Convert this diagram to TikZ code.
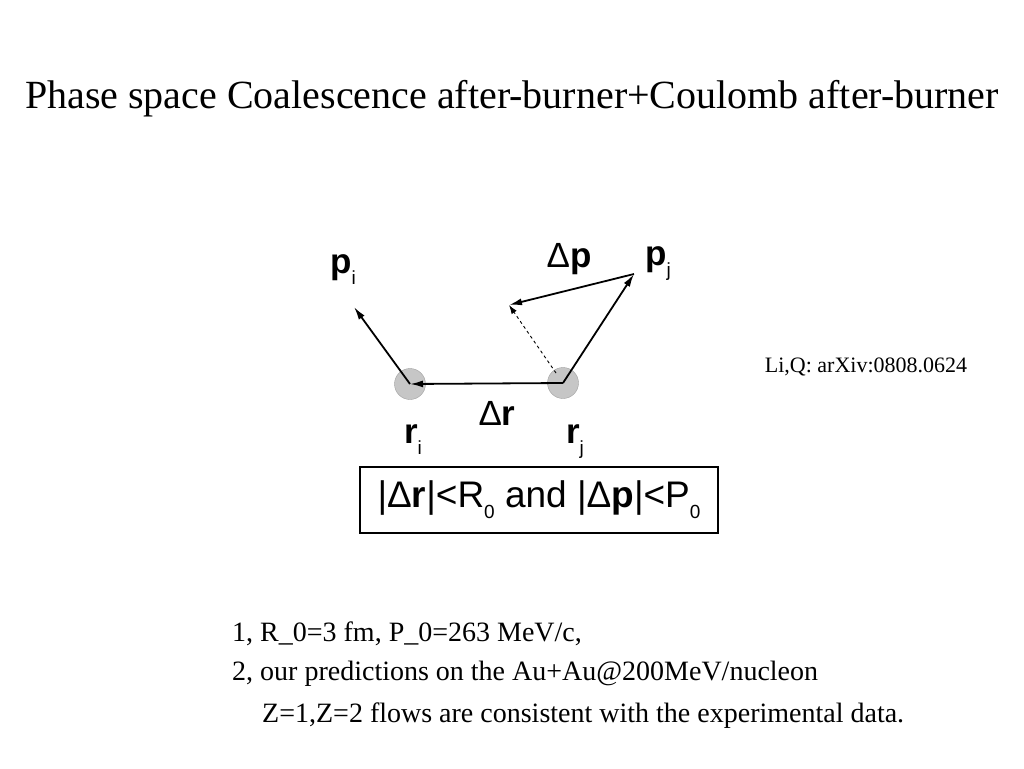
\documentclass[tikz,border=0pt]{standalone}
\usepackage{fontspec}
\setmainfont{Liberation Serif}
\newfontfamily\labelfont{Liberation Sans}
\usepackage{tikz}
\usetikzlibrary{arrows.meta}
\newcommand{\lsub}[1]{\raisebox{-11pt}{\fontsize{19}{19}\selectfont #1}}

\begin{document}
\begin{tikzpicture}[x = 1pt, y = -1pt,
  vec/.style = {-{Latex[length = 13pt, width = 7pt]}, line width = 1.8pt},
  lbl/.style = {font = \labelfont\fontsize{35}{36}\selectfont, inner sep = 0pt},
  txt/.style = {font = \fontsize{28}{32}\selectfont, inner sep = 0pt, anchor = west}]
\useasboundingbox (0, 0) rectangle (1024, 768);
\node (title) at (512, 99) [font = \fontsize{40}{44}\selectfont] {Phase space Coalescence after-burner+Coulomb after-burner};
\node (ri) at (410, 384) [circle, minimum size = 31pt, fill = gray!45, draw = gray!75] {};
\node (rj) at (563, 383) [circle, minimum size = 31pt, fill = gray!45, draw = gray!75] {};
\coordinate (pitip) at (354, 307);
\coordinate (pjtip) at (634, 274);
\coordinate (dptip) at (509, 305);
\draw [vec] (ri.center) -- (pitip);
\draw [vec] (rj.center) -- (pjtip);
\draw [vec] (pjtip) -- (dptip);
\draw [vec] (rj.center) -- (ri.center);
\draw [dashed, -{Latex[length = 9pt, width = 6pt]}, line width = 0.9pt] (rj.center) ++(-7, -10) -- (dptip);
\node (pilbl) at (343, 270) [lbl] {\textbf{p}\lsub{i}};
\node (pjlbl) at (658, 264) [lbl] {\textbf{p}\lsub{j}};
\node (dplbl) at (569, 259) [lbl] {Δ\textbf{p}};
\node (drlbl) at (497, 413) [lbl] {Δ\textbf{r}};
\node (rilbl) at (413, 440) [lbl] {\textbf{r}\lsub{i}};
\node (rjlbl) at (575, 442) [lbl] {\textbf{r}\lsub{j}};
\node (cond) at (539, 500) [draw, line width = 1.1pt, minimum width = 358pt, minimum height = 66pt, font = \labelfont\fontsize{37}{38}\selectfont]
  {|Δ\textbf{r}|<R\lsub{0} and |Δ\textbf{p}|<P\lsub{0}};
\node (ref) at (866, 367) [font = \fontsize{22}{26}\selectfont] {Li,Q: arXiv:0808.0624};
\node (line1) at (232, 634) [txt] {1, R\_0=3 fm, P\_0=263 MeV/c,};
\node (line2) at (232, 674) [txt] {2, our predictions on the Au+Au@200MeV/nucleon};
\node (line3) at (262, 716) [txt] {Z=1,Z=2 flows are consistent with the experimental data.};
\end{tikzpicture}
\end{document}
